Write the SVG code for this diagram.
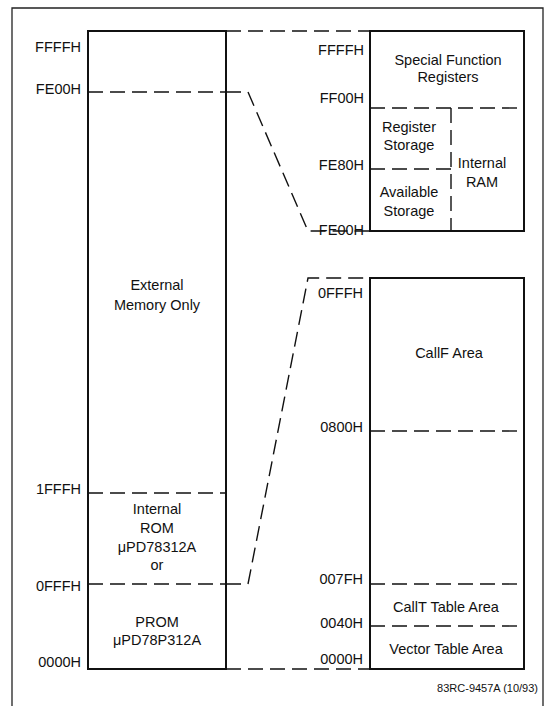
<svg xmlns="http://www.w3.org/2000/svg" width="546" height="706" viewBox="0 0 546 706">
<style>
text{font-family:"Liberation Sans",Arial,sans-serif;font-size:14.5px;fill:#111}
.lbl{text-anchor:end}
.c{text-anchor:middle}
.box{fill:none;stroke:#111;stroke-width:2}
.dash{fill:none;stroke:#111;stroke-width:1.4;stroke-dasharray:15 7}
.frame{fill:none;stroke:#222;stroke-width:1.3}
.foot{font-size:11px;text-anchor:end}
</style>
<rect width="546" height="706" fill="#fff"/>
<path class="frame" d="M12,706 V8 H543 V706"/>
<g id="left-map">
<rect class="box" x="88" y="31" width="138" height="638"/>
<line class="dash" x1="88" y1="92" x2="226" y2="92"/>
<line class="dash" x1="88" y1="493" x2="226" y2="493"/>
<line class="dash" x1="88" y1="584" x2="226" y2="584"/>
<text class="lbl" x="81" y="52">FFFFH</text>
<text class="lbl" x="81" y="94">FE00H</text>
<text class="lbl" x="81" y="494">1FFFH</text>
<text class="lbl" x="81" y="591">0FFFH</text>
<text class="lbl" x="81" y="667">0000H</text>
<text class="c" x="157" y="290">External</text>
<text class="c" x="157" y="310">Memory Only</text>
<text class="c" x="157" y="514">Internal</text>
<text class="c" x="157" y="533">ROM</text>
<text class="c" x="157" y="552">μPD78312A</text>
<text class="c" x="157" y="570">or</text>
<text class="c" x="157" y="627">PROM</text>
<text class="c" x="157" y="645">μPD78P312A</text>
</g>
<g id="ram-map">
<rect class="box" x="370" y="31" width="154" height="200"/>
<line class="dash" x1="370" y1="108" x2="524" y2="108"/>
<line class="dash" x1="370" y1="169" x2="451" y2="169"/>
<line class="dash" x1="451" y1="108" x2="451" y2="231"/>
<text class="lbl" x="364" y="55">FFFFH</text>
<text class="lbl" x="364" y="103">FF00H</text>
<text class="lbl" x="364" y="170">FE80H</text>
<text class="lbl" x="364" y="235">FE00H</text>
<text class="c" x="448" y="65">Special Function</text>
<text class="c" x="448" y="82">Registers</text>
<text class="c" x="409" y="132">Register</text>
<text class="c" x="409" y="150">Storage</text>
<text class="c" x="482" y="168">Internal</text>
<text class="c" x="482" y="187">RAM</text>
<text class="c" x="409" y="197">Available</text>
<text class="c" x="409" y="216">Storage</text>
</g>
<g id="rom-map">
<rect class="box" x="370" y="278" width="154" height="391"/>
<line class="dash" x1="370" y1="431" x2="522" y2="431"/>
<line class="dash" x1="370" y1="584" x2="522" y2="584"/>
<line class="dash" x1="370" y1="626" x2="522" y2="626"/>
<text class="lbl" x="363" y="298">0FFFH</text>
<text class="lbl" x="363" y="432">0800H</text>
<text class="lbl" x="363" y="584">007FH</text>
<text class="lbl" x="363" y="628">0040H</text>
<text class="lbl" x="363" y="664">0000H</text>
<text class="c" x="449" y="358">CallF Area</text>
<text class="c" x="446" y="612">CallT Table Area</text>
<text class="c" x="446" y="654">Vector Table Area</text>
</g>
<g id="connectors">
<line class="dash" x1="226" y1="31" x2="370" y2="31"/>
<polyline class="dash" points="226,92 248,92 308,231 370,231"/>
<polyline class="dash" points="226,584 248,584 308,278 370,278"/>
<line class="dash" x1="226" y1="669" x2="370" y2="669"/>
</g>
<text class="foot" x="538" y="692">83RC-9457A  (10/93)</text>
</svg>
